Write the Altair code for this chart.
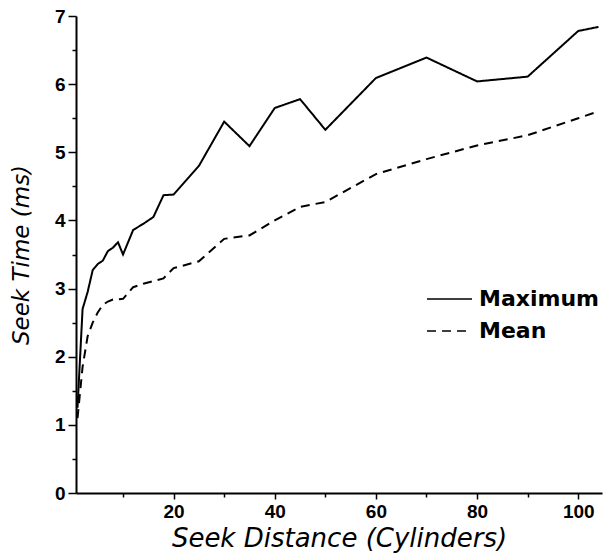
import altair as alt
import pandas as pd

# Seek distance (cylinders) and the measured seek times (ms)
distance = [1, 2, 3, 4, 5, 6, 7, 8, 9, 10, 12, 14, 16, 18, 20, 25, 30, 35,
            40, 45, 50, 60, 70, 80, 90, 100, 104]
maximum = [1.25, 2.70, 2.95, 3.27, 3.36, 3.41, 3.55, 3.60, 3.68, 3.50, 3.86,
           3.95, 4.05, 4.37, 4.38, 4.80, 5.45, 5.09, 5.65, 5.78, 5.33, 6.09,
           6.39, 6.04, 6.11, 6.78, 6.84]
mean = [1.10, 1.85, 2.30, 2.50, 2.65, 2.76, 2.81, 2.84, 2.84, 2.85, 3.02,
        3.07, 3.11, 3.15, 3.30, 3.40, 3.73, 3.78, 4.00, 4.20, 4.27, 4.68,
        4.90, 5.10, 5.25, 5.50, 5.60]
series = ["Maximum", "Mean"]

x_ticks = [10, 20, 30, 40, 50, 60, 70, 80, 90, 100]
y_ticks = [0, 0.5, 1, 1.5, 2, 2.5, 3, 3.5, 4, 4.5, 5, 5.5, 6, 6.5, 7]

rows = []
for d, mx, mn in zip(distance, maximum, mean):
    rows.append({"distance": d, "series": "Maximum", "time": mx})
    rows.append({"distance": d, "series": "Mean", "time": mn})
df = pd.DataFrame(rows)
legend_df = pd.DataFrame({"series": series})

dash_scale = alt.Scale(domain=series, range=[[1, 0], [9, 6]])

x_enc = alt.X(
    "distance:Q",
    scale=alt.Scale(domain=[0.7, 104.7], nice=False, zero=False),
    axis=alt.Axis(
        values=x_ticks,
        labelExpr="datum.value % 20 === 0 ? format(datum.value, 'd') : ''",
        tickSize={"condition": {"test": "datum.value % 20 === 0", "value": 6}, "value": 4},
        labelPadding=3,
        title="Seek Distance (Cylinders)",
        titlePadding=4,
        titleFontSize=26,
    ),
)
y_enc = alt.Y(
    "time:Q",
    scale=alt.Scale(domain=[0, 7], nice=False),
    axis=alt.Axis(
        values=y_ticks,
        labelExpr="datum.value % 1 === 0 ? format(datum.value, 'd') : ''",
        tickSize={"condition": {"test": "datum.value % 1 === 0", "value": 8}, "value": 4},
        labelPadding=3,
        title="Seek Time (ms)",
        titlePadding=21,
        titleFontSize=23,
    ),
)

lines = alt.Chart(df).mark_line(color="black", strokeWidth=2).encode(
    x=x_enc,
    y=y_enc,
    strokeDash=alt.StrokeDash("series:N", scale=dash_scale, legend=None),
    detail="series:N",
)

# Legend drawn inside the plot: a short line sample and a label per series
legend_y = alt.Y(
    "series:N",
    scale=alt.Scale(type="point", domain=series, range=[283, 315], padding=0),
    axis=None,
)
legend_rules = alt.Chart(legend_df).mark_rule(color="black", strokeWidth=1.5).encode(
    x=alt.value(351),
    x2=alt.value(396),
    y=legend_y,
    strokeDash=alt.StrokeDash("series:N", scale=dash_scale, legend=None),
)
legend_text = alt.Chart(legend_df).mark_text(
    align="left", baseline="middle", font="DejaVu Sans", fontSize=22,
    fontWeight="bold", color="black"
).encode(
    x=alt.value(403),
    y=legend_y,
    text="series:N",
)

chart = (
    alt.layer(lines, legend_rules, legend_text)
    .resolve_scale(y="independent")
    .properties(
        width=526,
        height=477,
        padding={"left": 76, "top": 16, "right": 14, "bottom": 63},
        autosize=alt.AutoSizeParams(type="none"),
        background="white",
    )
    .configure_view(stroke=None)
    .configure_axis(
        grid=False,
        domainColor="black",
        domainWidth=2,
        tickColor="black",
        tickWidth=1.5,
        labelColor="black",
        labelFont="Liberation Sans",
        labelFontSize=19,
        labelFontWeight="bold",
        titleColor="black",
        titleFont="DejaVu Sans",
        titleFontStyle="italic",
        titleFontWeight="normal",
    )
)

chart.save("out.html", embed_options={"renderer": "svg", "actions": False})
